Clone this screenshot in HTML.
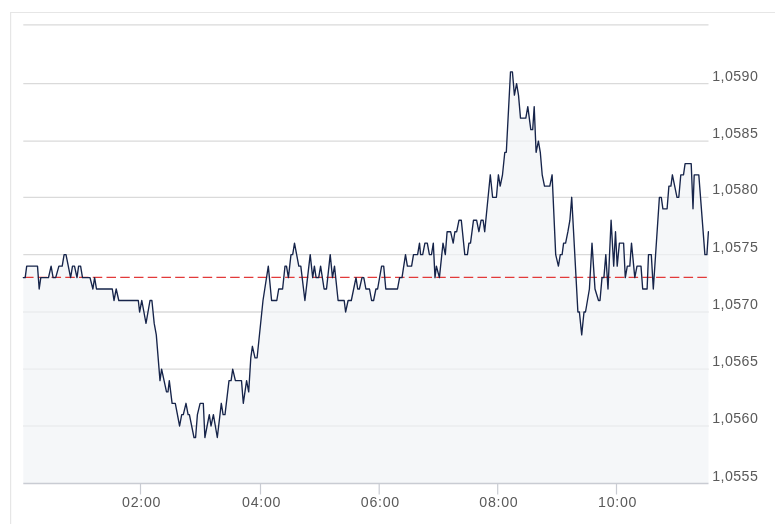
<!DOCTYPE html>
<html><head><meta charset="utf-8"><title>Chart</title>
<style>
html,body{margin:0;padding:0;background:#fff;}
body{width:775px;height:524px;overflow:hidden;position:relative;font-family:"Liberation Sans",sans-serif;}
svg text{font-family:"Liberation Sans",sans-serif;}
</style></head><body>
<svg width="775" height="524" viewBox="0 0 775 524" style="display:block;position:absolute;left:0;top:0;will-change:transform">
<rect x="0" y="0" width="775" height="524" fill="#ffffff"/>
<rect x="10" y="12" width="765" height="1" fill="#e6e6e6"/>
<rect x="10" y="12" width="1.2" height="512" fill="#e6e6e6"/>
<line x1="23.3" x2="708.5" y1="426.0" y2="426.0" stroke="#dadada" stroke-width="1.3"/>
<line x1="23.3" x2="708.5" y1="369.2" y2="369.2" stroke="#dadada" stroke-width="1.3"/>
<line x1="23.3" x2="708.5" y1="312.0" y2="312.0" stroke="#dadada" stroke-width="1.3"/>
<line x1="23.3" x2="708.5" y1="254.6" y2="254.6" stroke="#dadada" stroke-width="1.3"/>
<line x1="23.3" x2="708.5" y1="197.3" y2="197.3" stroke="#dadada" stroke-width="1.3"/>
<line x1="23.3" x2="708.5" y1="141.1" y2="141.1" stroke="#dadada" stroke-width="1.3"/>
<line x1="23.3" x2="708.5" y1="83.6" y2="83.6" stroke="#dadada" stroke-width="1.3"/>
<line x1="23.3" x2="708.5" y1="24.8" y2="24.8" stroke="#dadada" stroke-width="1.3"/>
<path d="M23.3,483.5 L23.3,277.6 L25.2,277.6 L26.7,266.1 L37.5,266.1 L39.2,289.0 L40.8,277.6 L48.5,277.6 L51.1,266.1 L53.1,277.6 L55.7,277.6 L58.9,266.1 L62.2,266.1 L64.1,254.6 L66.0,254.6 L70.6,277.6 L72.5,266.1 L74.5,266.1 L77.0,277.6 L78.6,266.1 L80.6,266.1 L82.5,277.6 L90.0,277.6 L92.9,289.0 L94.6,277.6 L96.5,289.0 L112.3,289.0 L114.0,300.5 L116.2,289.0 L118.8,300.5 L138.3,300.5 L139.6,312.0 L141.8,300.5 L146.0,323.4 L150.0,300.5 L151.9,300.5 L154.2,323.4 L156.3,334.9 L160.0,380.6 L161.6,369.2 L166.5,391.9 L168.0,391.9 L169.3,380.6 L172.1,403.3 L175.3,403.3 L179.6,426.0 L181.7,414.6 L183.3,414.6 L186.0,403.3 L188.1,414.6 L189.4,414.6 L194.0,437.5 L195.6,437.5 L197.4,414.6 L200.1,403.3 L203.3,403.3 L204.9,437.5 L209.3,414.6 L211.0,426.0 L213.4,414.6 L217.3,437.5 L221.3,403.3 L223.1,414.6 L225.0,414.6 L229.0,380.6 L231.1,380.6 L232.7,369.2 L235.4,380.6 L241.5,380.6 L243.3,403.3 L246.6,380.6 L248.7,391.9 L250.8,357.8 L252.4,346.3 L255.0,357.8 L257.1,357.8 L263.0,300.5 L268.3,266.1 L271.6,300.5 L276.8,300.5 L278.7,289.0 L282.6,289.0 L285.0,266.1 L286.5,266.1 L288.4,277.6 L291.0,254.6 L292.7,254.6 L294.5,243.1 L298.8,266.1 L300.8,266.1 L304.9,300.5 L310.2,254.6 L312.7,277.6 L314.4,266.1 L316.1,277.6 L318.7,277.6 L320.6,266.1 L324.1,289.0 L326.5,289.0 L330.2,254.6 L332.5,277.6 L334.5,266.1 L338.1,300.5 L344.2,300.5 L345.6,312.0 L348.1,300.5 L351.3,300.5 L356.0,277.6 L357.7,289.0 L359.4,289.0 L362.0,277.6 L363.8,277.6 L365.9,289.0 L369.5,289.0 L371.6,300.5 L373.6,300.5 L375.9,289.0 L377.6,289.0 L381.6,266.1 L383.7,266.1 L385.8,289.0 L397.5,289.0 L399.6,277.6 L402.0,277.6 L405.5,254.6 L407.4,266.1 L411.6,266.1 L413.5,254.6 L417.6,254.6 L419.5,243.1 L420.6,254.6 L422.7,254.6 L424.9,243.1 L427.3,243.1 L429.4,254.6 L431.5,254.6 L433.3,243.1 L435.0,277.6 L436.4,266.1 L439.4,277.6 L443.0,243.1 L445.3,254.6 L447.1,231.7 L450.6,231.7 L453.2,243.1 L454.9,231.7 L456.7,231.7 L459.0,220.2 L461.3,220.2 L464.8,254.6 L467.4,254.6 L468.9,243.1 L470.5,243.1 L473.5,220.2 L476.6,220.2 L478.9,231.7 L481.1,220.2 L483.1,220.2 L484.7,231.7 L490.3,174.8 L492.6,197.3 L496.4,197.3 L498.4,174.8 L500.2,186.1 L502.5,174.8 L504.8,152.3 L506.3,152.3 L510.5,71.8 L512.4,71.8 L514.4,95.1 L516.6,83.6 L518.5,95.1 L520.5,118.1 L525.8,118.1 L527.8,106.6 L530.8,129.6 L532.7,129.6 L534.2,106.6 L536.1,152.3 L538.4,141.1 L540.3,152.3 L542.2,174.8 L544.5,186.1 L549.8,186.1 L552.1,174.8 L555.7,254.6 L558.4,266.1 L560.3,254.6 L562.1,254.6 L563.6,243.1 L565.6,243.1 L567.9,231.7 L569.9,220.2 L571.7,197.3 L577.9,312.0 L579.4,312.0 L581.7,334.9 L584.0,312.0 L585.5,312.0 L589.4,289.0 L592.0,243.1 L595.0,289.0 L598.5,300.5 L600.0,300.5 L602.0,277.6 L603.9,277.6 L605.8,254.6 L608.0,289.0 L611.1,220.2 L613.7,266.1 L615.5,231.7 L617.2,266.1 L619.4,243.1 L623.6,243.1 L625.3,277.6 L627.3,266.1 L629.8,266.1 L631.5,243.1 L634.8,277.6 L637.0,266.1 L641.0,266.1 L642.7,289.0 L647.1,289.0 L648.5,254.6 L651.3,254.6 L653.3,289.0 L659.4,197.3 L661.3,197.3 L662.9,208.8 L667.1,208.8 L668.9,186.1 L670.9,186.1 L672.4,174.8 L677.0,197.3 L678.8,197.3 L680.8,174.8 L683.5,174.8 L685.1,163.6 L691.2,163.6 L693.0,208.8 L694.2,174.8 L698.8,174.8 L704.9,254.6 L706.9,254.6 L708.4,231.7 L708.5,483.5 Z" fill="#f1f3f6" fill-opacity="0.7" stroke="none"/>
<line x1="23.3" x2="708.5" y1="483.5" y2="483.5" stroke="#c9ccd3" stroke-width="1.5"/>
<line x1="140.5" x2="140.5" y1="483.5" y2="494.5" stroke="#c9ccd3" stroke-width="1.2"/>
<line x1="260.5" x2="260.5" y1="483.5" y2="494.5" stroke="#c9ccd3" stroke-width="1.2"/>
<line x1="379.2" x2="379.2" y1="483.5" y2="494.5" stroke="#c9ccd3" stroke-width="1.2"/>
<line x1="497.7" x2="497.7" y1="483.5" y2="494.5" stroke="#c9ccd3" stroke-width="1.2"/>
<line x1="616.5" x2="616.5" y1="483.5" y2="494.5" stroke="#c9ccd3" stroke-width="1.2"/>
<line x1="23.3" x2="707" y1="277.4" y2="277.4" stroke="#e23a3a" stroke-width="1.3" stroke-dasharray="9.5 4.24" stroke-dashoffset="12.98"/>
<polyline points="23.3,277.6 25.2,277.6 26.7,266.1 37.5,266.1 39.2,289.0 40.8,277.6 48.5,277.6 51.1,266.1 53.1,277.6 55.7,277.6 58.9,266.1 62.2,266.1 64.1,254.6 66.0,254.6 70.6,277.6 72.5,266.1 74.5,266.1 77.0,277.6 78.6,266.1 80.6,266.1 82.5,277.6 90.0,277.6 92.9,289.0 94.6,277.6 96.5,289.0 112.3,289.0 114.0,300.5 116.2,289.0 118.8,300.5 138.3,300.5 139.6,312.0 141.8,300.5 146.0,323.4 150.0,300.5 151.9,300.5 154.2,323.4 156.3,334.9 160.0,380.6 161.6,369.2 166.5,391.9 168.0,391.9 169.3,380.6 172.1,403.3 175.3,403.3 179.6,426.0 181.7,414.6 183.3,414.6 186.0,403.3 188.1,414.6 189.4,414.6 194.0,437.5 195.6,437.5 197.4,414.6 200.1,403.3 203.3,403.3 204.9,437.5 209.3,414.6 211.0,426.0 213.4,414.6 217.3,437.5 221.3,403.3 223.1,414.6 225.0,414.6 229.0,380.6 231.1,380.6 232.7,369.2 235.4,380.6 241.5,380.6 243.3,403.3 246.6,380.6 248.7,391.9 250.8,357.8 252.4,346.3 255.0,357.8 257.1,357.8 263.0,300.5 268.3,266.1 271.6,300.5 276.8,300.5 278.7,289.0 282.6,289.0 285.0,266.1 286.5,266.1 288.4,277.6 291.0,254.6 292.7,254.6 294.5,243.1 298.8,266.1 300.8,266.1 304.9,300.5 310.2,254.6 312.7,277.6 314.4,266.1 316.1,277.6 318.7,277.6 320.6,266.1 324.1,289.0 326.5,289.0 330.2,254.6 332.5,277.6 334.5,266.1 338.1,300.5 344.2,300.5 345.6,312.0 348.1,300.5 351.3,300.5 356.0,277.6 357.7,289.0 359.4,289.0 362.0,277.6 363.8,277.6 365.9,289.0 369.5,289.0 371.6,300.5 373.6,300.5 375.9,289.0 377.6,289.0 381.6,266.1 383.7,266.1 385.8,289.0 397.5,289.0 399.6,277.6 402.0,277.6 405.5,254.6 407.4,266.1 411.6,266.1 413.5,254.6 417.6,254.6 419.5,243.1 420.6,254.6 422.7,254.6 424.9,243.1 427.3,243.1 429.4,254.6 431.5,254.6 433.3,243.1 435.0,277.6 436.4,266.1 439.4,277.6 443.0,243.1 445.3,254.6 447.1,231.7 450.6,231.7 453.2,243.1 454.9,231.7 456.7,231.7 459.0,220.2 461.3,220.2 464.8,254.6 467.4,254.6 468.9,243.1 470.5,243.1 473.5,220.2 476.6,220.2 478.9,231.7 481.1,220.2 483.1,220.2 484.7,231.7 490.3,174.8 492.6,197.3 496.4,197.3 498.4,174.8 500.2,186.1 502.5,174.8 504.8,152.3 506.3,152.3 510.5,71.8 512.4,71.8 514.4,95.1 516.6,83.6 518.5,95.1 520.5,118.1 525.8,118.1 527.8,106.6 530.8,129.6 532.7,129.6 534.2,106.6 536.1,152.3 538.4,141.1 540.3,152.3 542.2,174.8 544.5,186.1 549.8,186.1 552.1,174.8 555.7,254.6 558.4,266.1 560.3,254.6 562.1,254.6 563.6,243.1 565.6,243.1 567.9,231.7 569.9,220.2 571.7,197.3 577.9,312.0 579.4,312.0 581.7,334.9 584.0,312.0 585.5,312.0 589.4,289.0 592.0,243.1 595.0,289.0 598.5,300.5 600.0,300.5 602.0,277.6 603.9,277.6 605.8,254.6 608.0,289.0 611.1,220.2 613.7,266.1 615.5,231.7 617.2,266.1 619.4,243.1 623.6,243.1 625.3,277.6 627.3,266.1 629.8,266.1 631.5,243.1 634.8,277.6 637.0,266.1 641.0,266.1 642.7,289.0 647.1,289.0 648.5,254.6 651.3,254.6 653.3,289.0 659.4,197.3 661.3,197.3 662.9,208.8 667.1,208.8 668.9,186.1 670.9,186.1 672.4,174.8 677.0,197.3 678.8,197.3 680.8,174.8 683.5,174.8 685.1,163.6 691.2,163.6 693.0,208.8 694.2,174.8 698.8,174.8 704.9,254.6 706.9,254.6 708.4,231.7" fill="none" stroke="#16244a" stroke-width="1.35" stroke-linejoin="round" stroke-linecap="round"/>
<g>
<text x="712.3" y="480.5" font-size="14.2" textLength="45.5" lengthAdjust="spacing" fill="#5a5a5a">1,0555</text>
<text x="712.3" y="423.0" font-size="14.2" textLength="45.5" lengthAdjust="spacing" fill="#5a5a5a">1,0560</text>
<text x="712.3" y="366.2" font-size="14.2" textLength="45.5" lengthAdjust="spacing" fill="#5a5a5a">1,0565</text>
<text x="712.3" y="309.0" font-size="14.2" textLength="45.5" lengthAdjust="spacing" fill="#5a5a5a">1,0570</text>
<text x="712.3" y="251.6" font-size="14.2" textLength="45.5" lengthAdjust="spacing" fill="#5a5a5a">1,0575</text>
<text x="712.3" y="194.3" font-size="14.2" textLength="45.5" lengthAdjust="spacing" fill="#5a5a5a">1,0580</text>
<text x="712.3" y="138.1" font-size="14.2" textLength="45.5" lengthAdjust="spacing" fill="#5a5a5a">1,0585</text>
<text x="712.3" y="80.6" font-size="14.2" textLength="45.5" lengthAdjust="spacing" fill="#5a5a5a">1,0590</text>
<text x="122.1" y="507" font-size="14.2" textLength="38.4" lengthAdjust="spacing" fill="#5a5a5a">02:00</text>
<text x="242.1" y="507" font-size="14.2" textLength="38.4" lengthAdjust="spacing" fill="#5a5a5a">04:00</text>
<text x="360.8" y="507" font-size="14.2" textLength="38.4" lengthAdjust="spacing" fill="#5a5a5a">06:00</text>
<text x="479.3" y="507" font-size="14.2" textLength="38.4" lengthAdjust="spacing" fill="#5a5a5a">08:00</text>
<text x="598.1" y="507" font-size="14.2" textLength="38.4" lengthAdjust="spacing" fill="#5a5a5a">10:00</text>
</g>
</svg>
</body></html>
